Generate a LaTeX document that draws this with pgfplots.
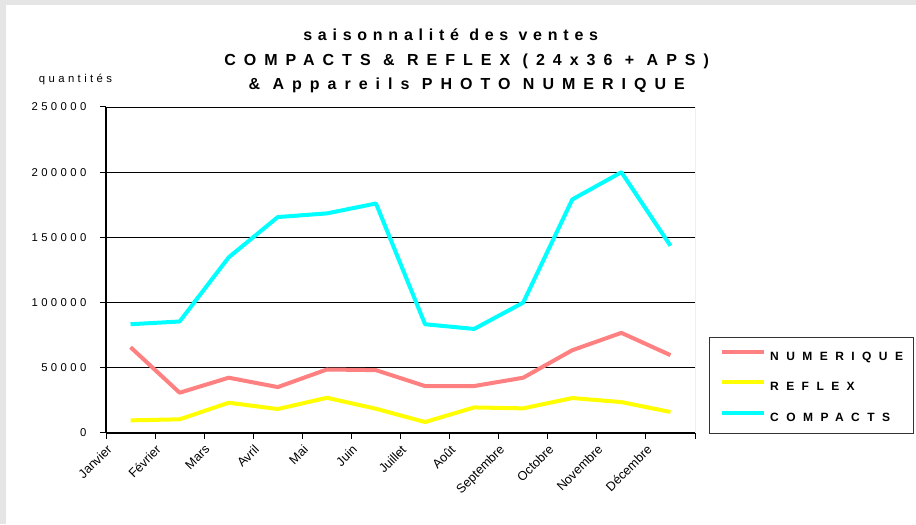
\documentclass[border=0pt]{standalone}
\usepackage{pgfplots}
\usepackage{pgfplotstable}
\pgfplotsset{compat=1.18}
\usepackage{fontspec}
\setmainfont{Liberation Sans}
\newfontfamily\titlefont[LetterSpace=50]{Liberation Sans}
\newfontfamily\titlefontA[LetterSpace=36]{Liberation Sans}
\newfontfamily\legfont[LetterSpace=62]{Liberation Sans}
\newfontfamily\tickfont[LetterSpace=30]{Liberation Sans}
\definecolor{cNum}{HTML}{FF8080}
\definecolor{cRef}{HTML}{FFFF00}
\definecolor{cCom}{HTML}{00FFFF}

\pgfplotstableread{
m num ref com
0 65800 9700 83400
1 30900 10500 85500
2 42400 23200 134700
3 35200 18400 165600
4 48700 27000 168400
5 48200 18600 176000
6 36000 8400 83400
7 36000 19600 79800
8 42400 18900 100000
9 63500 26800 179100
10 76800 23700 200000
11 59700 16100 143600
}\data

\begin{document}
\begin{tikzpicture}
\path[use as bounding box] (0pt,0pt) rectangle (687pt,393pt);
\clip (0pt,0pt) rectangle (687pt,393pt);
\fill[gray!20] (0pt,0pt) rectangle (687pt,393pt);
\fill[white] (4.5pt,0pt) rectangle (687pt,389.25pt);

\node[anchor=base, font=\titlefontA\bfseries\fontsize{12}{14}\selectfont] at (338pt,362.25pt) {saisonnalité des ventes};
\node[anchor=base, font=\titlefont\bfseries\fontsize{12}{14}\selectfont] at (350pt,343.5pt) {COMPACTS \& REFLEX (24x36 + APS)};
\node[anchor=base, font=\titlefont\bfseries\fontsize{12}{14}\selectfont] at (350pt,325.5pt) {\& Appareils PHOTO NUMERIQUE};
\node[anchor=base west, inner sep=0pt, font=\tickfont\fontsize{8.5}{10}\selectfont] at (29pt,330.75pt) {quantités};

\begin{axis}[
  at={(79.5pt,68.25pt)}, anchor=south west,
  width=441.75pt, height=244.5pt, scale only axis,
  xmin=-0.5, xmax=11.5, ymin=0, ymax=250000,
  scaled y ticks=false,
  axis x line*=bottom, axis y line*=left,
  axis line style={black, line width=0.9pt},
  xtick={-0.5,0.5,...,11.5},
  xticklabels={Janvier,Février,Mars,Avril,Mai,Juin,Juillet,Août,Septembre,Octobre,Novembre,Décembre,{}},
  ytick={0,50000,100000,150000,200000,250000},
  yticklabels={0,50000,100000,150000,200000,250000},
  tick align=outside, major tick length=4.5pt,
  tick style={black, line width=0.75pt},
  ymajorgrids, major grid style={black, line width=0.6pt},
  xticklabel style={rotate=45, anchor=north east, font=\fontsize{9.5}{10}\selectfont, inner sep=2.5pt},
  yticklabel style={font=\tickfont\fontsize{8.5}{10}\selectfont, inner sep=0pt, xshift=-10pt},
  legend cell align=left,
  legend style={at={(1.0238,-0.003)}, anchor=south west, draw=black!80, line width=0.75pt,
    font=\legfont\bfseries\fontsize{9}{10}\selectfont, inner xsep=7.5pt, inner ysep=9pt,
    row sep=15pt, column sep=3pt, nodes={inner sep=0pt, text height=6.5pt, text depth=0pt}},
  legend image code/.code={\draw[#1] (0pt,3.2pt) -- (32pt,3.2pt);},
  every axis plot/.append style={line width=3pt, line join=round},
]
\addplot[cNum] table[x=m, y=num] {\data};
\addlegendentry{NUMERIQUE}
\addplot[cRef] table[x=m, y=ref] {\data};
\addlegendentry{REFLEX}
\addplot[cCom] table[x=m, y=com] {\data};
\addlegendentry{COMPACTS}
\draw[gray, line width=0.75pt] (rel axis cs:1,0) -- (rel axis cs:1,1);
\end{axis}
\end{tikzpicture}
\end{document}
